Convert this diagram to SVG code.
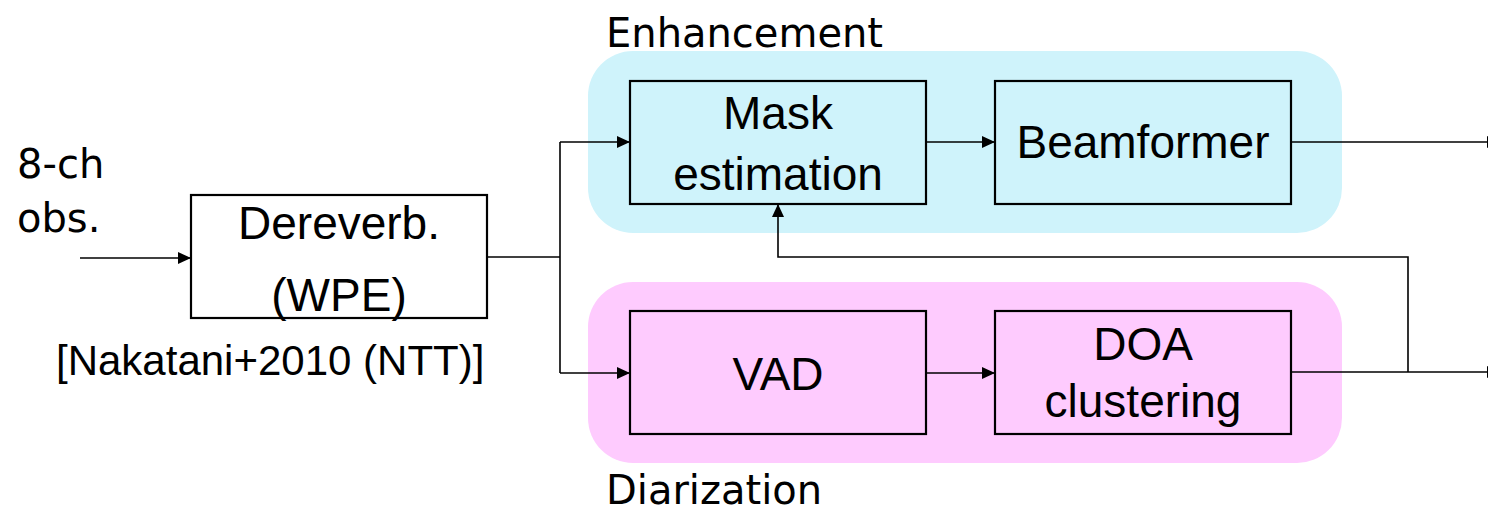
<svg xmlns="http://www.w3.org/2000/svg" width="1488" height="511" viewBox="0 0 1488 511">
<style>
.box{stroke:#000;stroke-width:2.2}
.plain{fill:#fff}
.lbl{font-family:"DejaVu Sans",sans-serif;font-size:40px;fill:#000}
.txt{font-family:"Liberation Sans",Arial,sans-serif;font-size:46px;fill:#000;text-anchor:middle}
.cite{font-family:"Liberation Sans",Arial,sans-serif;font-size:42px;fill:#000}
.conn{fill:none;stroke:#000;stroke-width:1.6}
</style>
<defs>
<marker id="arr" markerWidth="14" markerHeight="12" refX="13" refY="6" orient="auto" markerUnits="userSpaceOnUse">
<path d="M0,0 L13,6 L0,12 Z" fill="#000"/>
</marker>
</defs>
<rect id="grp-enh" x="588" y="51" width="754" height="182" rx="45" fill="#CFF3FB"/>
<rect id="grp-dia" x="588" y="282" width="754" height="181" rx="45" fill="#FECBFE"/>
<text class="lbl" x="606" y="47">Enhancement</text>
<text class="lbl" x="606" y="504">Diarization</text>
<text class="lbl" x="17" y="178">8-ch</text>
<text class="lbl" x="17" y="232">obs.</text>
<g id="dereverb">
<rect class="box plain" x="191" y="195" width="296" height="123"/>
<text class="txt" x="339" y="239">Dereverb.</text>
<text class="txt" x="339" y="311">(WPE)</text>
</g>
<text class="cite" x="56" y="375">[Nakatani+2010 (NTT)]</text>
<g id="mask">
<rect class="box" fill="#CFF3FB" x="630" y="81" width="296" height="123"/>
<text class="txt" x="778" y="129">Mask</text>
<text class="txt" x="778" y="190">estimation</text>
</g>
<g id="beamformer">
<rect class="box" fill="#CFF3FB" x="995" y="81" width="296" height="123"/>
<text class="txt" x="1143" y="158">Beamformer</text>
</g>
<g id="vad">
<rect class="box" fill="#FECBFE" x="630" y="311" width="296" height="123"/>
<text class="txt" x="778" y="390">VAD</text>
</g>
<g id="doa">
<rect class="box" fill="#FECBFE" x="995" y="311" width="296" height="123"/>
<text class="txt" x="1143" y="360">DOA</text>
<text class="txt" x="1143" y="417">clustering</text>
</g>
<g id="connectors">
<path class="conn" d="M80,258 H191" marker-end="url(#arr)"/>
<path class="conn" d="M487,257 H560"/>
<path class="conn" d="M560,142 V373"/>
<path class="conn" d="M560,142 H630" marker-end="url(#arr)"/>
<path class="conn" d="M560,373 H630" marker-end="url(#arr)"/>
<path class="conn" d="M926,142 H995" marker-end="url(#arr)"/>
<path class="conn" d="M926,373 H995" marker-end="url(#arr)"/>
<path class="conn" d="M1291,142 H1500" marker-end="url(#arr)"/>
<path class="conn" d="M1291,372 H1500" marker-end="url(#arr)"/>
<path class="conn" d="M1408,372 V257 H778 V204" marker-end="url(#arr)"/>
</g>
</svg>
